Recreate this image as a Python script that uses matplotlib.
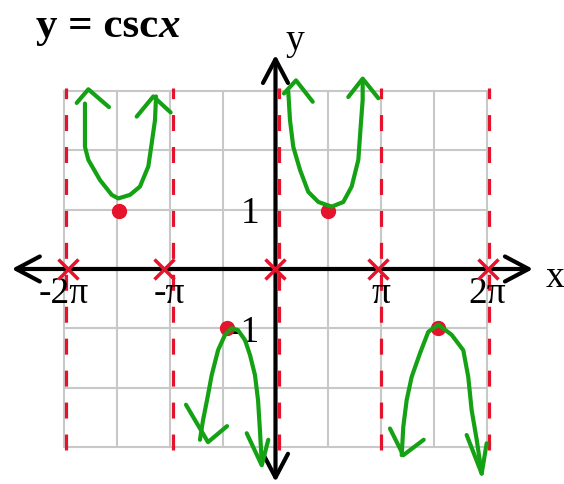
import numpy as np
import matplotlib
matplotlib.use("Agg")
import matplotlib.pyplot as plt

plt.rcParams['font.family'] = ['Liberation Serif', 'DejaVu Serif']

# x values are in units of pi, y in plain units
grid_x = np.arange(-2, 2.01, 0.5)
grid_y = np.arange(-3, 3.01, 1)

tick_x = [-2, -1, 1, 2]
tick_x_labels = ['-2π', '-π', 'π', '2π']
tick_y = [1, -1]
tick_y_labels = ['1', '-1']

# hand-drawn asymptotes and zero marks
asym_x = [-1.98, -0.97, 0.03, 1.00, 2.02]
zero_x = [-1.96, -1.05, 0.0, 0.97, 2.01]

# red dots at the turning points
dot_x = [-1.476, 0.499, -0.461, 1.539]
dot_y = [0.97, 0.97, -1.00, -1.00]

# green branches of csc x (traced strokes)
b1_x = [-1.801, -1.801, -1.769, -1.659, -1.548, -1.486, -1.375, -1.281, -1.202, -1.170, -1.139, -1.129]
b1_y = [2.79, 2.06, 1.84, 1.50, 1.25, 1.19, 1.25, 1.39, 1.73, 2.12, 2.51, 2.91]
b2_x = [0.121, 0.137, 0.168, 0.232, 0.310, 0.405, 0.531, 0.641, 0.720, 0.783, 0.805, 0.824, 0.824]
b2_y = [2.99, 2.51, 2.06, 1.67, 1.30, 1.13, 1.05, 1.13, 1.39, 1.84, 2.40, 2.85, 3.19]
b3_x = [-0.714, -0.685, -0.647, -0.603, -0.543, -0.477, -0.414, -0.355, -0.288, -0.241, -0.194, -0.165, -0.147, -0.130]
b3_y = [-2.88, -2.55, -2.21, -1.79, -1.37, -1.11, -1.00, -1.03, -1.20, -1.45, -1.79, -2.21, -2.72, -3.27]
b4_x = [1.193, 1.208, 1.240, 1.287, 1.366, 1.444, 1.539, 1.665, 1.775, 1.822, 1.854, 1.902, 1.949]
b4_y = [-3.14, -2.66, -2.21, -1.82, -1.42, -1.06, -0.94, -1.11, -1.37, -1.82, -2.38, -2.88, -3.45]

# arrow tips on the branches (left arm, tip, right arm)
heads_x = [[-1.879, -1.769, -1.574], [-1.312, -1.155, -0.991],
           [0.080, 0.194, 0.352], [0.688, 0.824, 0.972],
           [-0.846, -0.638, -0.458], [-0.272, -0.130, -0.068],
           [1.082, 1.208, 1.401], [1.807, 1.949, 1.996]]
heads_y = [[2.80, 3.03, 2.73], [2.57, 2.91, 2.64],
           [2.96, 3.18, 2.82], [2.90, 3.21, 2.88],
           [-2.29, -2.92, -2.65], [-2.77, -3.31, -2.88],
           [-2.69, -3.14, -2.88], [-2.80, -3.45, -2.94]]

RED = '#e5132b'
GREEN = '#14a214'
GRID = '#c8c8c8'

fig = plt.figure(figsize=(5.64, 4.84), dpi=100)
ax = fig.add_axes([0, 0, 1, 1])
ax.set_xlim(-2.604, 2.727)
ax.set_ylim(-3.626, 4.536)
ax.axis('off')

# grid
for gx in grid_x:
    ax.plot([gx, gx], [grid_y[0], grid_y[-1]], color=GRID, lw=1.5, zorder=1)
for gy in grid_y:
    ax.plot([grid_x[0], grid_x[-1]], [gy, gy], color=GRID, lw=1.5, zorder=1)

# asymptotes
for a in asym_x:
    ax.plot([a, a], [-3.05, 3.05], color=RED, lw=2.3, dashes=(5, 5), zorder=2)

# axes with arrows at both ends
arrow = dict(arrowstyle='<->,head_length=0.85,head_width=0.45', lw=3, color='black',
             mutation_scale=20, shrinkA=0, shrinkB=0)
ax.annotate('', xy=(2.434, 0), xytext=(-2.493, 0), arrowprops=arrow, zorder=3)
ax.annotate('', xy=(0, 3.61), xytext=(0, -3.59), arrowprops=arrow, zorder=3)

ax.text(2.64, -0.30, 'x', fontsize=27, ha='center', va='baseline')
ax.text(0.184, 3.69, 'y', fontsize=27, ha='center', va='baseline')

for tx, lab in zip(tick_x, tick_x_labels):
    ax.text(tx, -0.573, lab, fontsize=27, ha='center', va='baseline', zorder=2)
for ty, lab in zip(tick_y, tick_y_labels):
    ax.text(-0.15, ty - 0.224, lab, fontsize=27, ha='right', va='baseline', zorder=2)

# title
t1 = ax.text(-2.264, 3.91, 'y = csc', fontsize=31, fontweight='bold', va='baseline')
ax.annotate('x', xy=(1, 0), xycoords=t1, fontsize=31, fontweight='bold',
            fontstyle='italic', ha='left', va='bottom')

# branches
ax.plot(dot_x, dot_y, 'o', color=RED, ms=10, zorder=4)
for bx, by in [(b1_x, b1_y), (b2_x, b2_y), (b3_x, b3_y), (b4_x, b4_y)]:
    ax.plot(bx, by, color=GREEN, lw=3, solid_capstyle='round', solid_joinstyle='round', zorder=5)
for hx, hy in zip(heads_x, heads_y):
    ax.plot(hx, hy, color=GREEN, lw=3, solid_capstyle='round', solid_joinstyle='round', zorder=5)

# zero crossings
ax.plot(zero_x, np.zeros(len(zero_x)), 'x', color=RED, ms=15, mew=2.5, zorder=6)

fig.savefig('out.png', dpi=100)
